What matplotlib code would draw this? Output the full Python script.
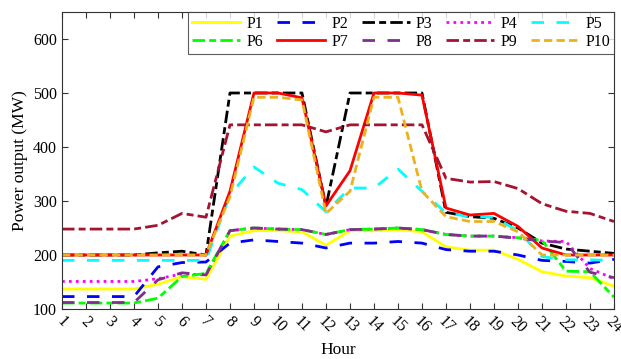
import matplotlib
matplotlib.use("Agg")
import matplotlib.pyplot as plt
import numpy as np

plt.rcParams['font.family'] = ['Liberation Serif', 'DejaVu Serif']
plt.rcParams['mathtext.fontset'] = 'stix'

hours = list(range(1, 25))
series_names = ["P1", "P2", "P3", "P4", "P5", "P6", "P7", "P8", "P9", "P10"]

P1 = [137, 137, 137, 137, 146, 160, 155, 235, 245, 245, 243, 218, 245, 245, 247, 243, 215, 209, 209, 192, 169, 161, 158, 142]
P2 = [123, 123, 123, 123, 178, 186, 187, 222, 228, 225, 222, 213, 222, 222, 225, 222, 210, 207, 207, 200, 190, 188, 185, 192]
P3 = [200, 200, 200, 200, 204, 207, 200, 500, 500, 500, 500, 290, 500, 500, 500, 500, 279, 271, 268, 250, 222, 211, 207, 203]
P4 = [151, 151, 151, 151, 156, 165, 163, 245, 250, 248, 247, 238, 247, 248, 250, 247, 238, 235, 235, 232, 226, 225, 175, 156]
P5 = [190, 190, 190, 190, 190, 190, 190, 312, 363, 333, 321, 280, 324, 324, 359, 318, 278, 271, 270, 245, 197, 191, 191, 190]
P6 = [111, 111, 111, 111, 120, 160, 166, 245, 250, 248, 247, 238, 247, 248, 250, 247, 238, 235, 235, 232, 227, 170, 169, 122]
P7 = [200, 200, 200, 200, 200, 200, 200, 318, 500, 500, 491, 291, 356, 500, 500, 496, 287, 274, 277, 253, 213, 200, 200, 200]
P8 = [112, 112, 112, 112, 154, 167, 163, 245, 250, 248, 247, 238, 247, 248, 250, 247, 238, 235, 235, 231, 226, 223, 168, 158]
P9 = [248, 248, 248, 248, 255, 277, 270, 441, 441, 441, 441, 428, 441, 441, 441, 441, 342, 335, 336, 323, 295, 281, 277, 262]
P10 = [200, 200, 200, 200, 200, 200, 200, 308, 492, 492, 487, 277, 318, 492, 492, 318, 271, 262, 262, 243, 200, 200, 200, 200]

data = [P1, P2, P3, P4, P5, P6, P7, P8, P9, P10]
colors = ["#ffff00", "#0000ff", "#000000", "#ff00ff", "#00ffff",
          "#00ff00", "#ff0000", "#7e2f8e", "#a2142f", "#edb120"]
dash = (4.5, 4.5)
dashdot = (4.5, 1.5, 2.5, 1.5)
styles = ["-", (0, dash), (0, dashdot), (0, (1, 1.5)), (0, dash),
          (0, dashdot), "-", (0, dash), (0, dashdot), (0, (3, 1.5))]

fig = plt.figure(figsize=(6.21, 3.59), dpi=100)
ax = fig.add_axes([0.0998, 0.1393, 0.8889, 0.8273])

handles = []
for vals, c, ls, name in zip(data, colors, styles, series_names):
    h, = ax.plot(hours, vals, color=c, linestyle=ls, linewidth=2.0, label=name)
    handles.append(h)

ax.set_xlim(1, 24)
ax.set_ylim(100, 650)
ax.set_yticks([100, 200, 300, 400, 500, 600])
ax.set_xticks(hours)
ax.set_xticklabels([str(h) for h in hours], rotation=-45, ha='center', va='top')
ax.tick_params(direction='in', top=True, right=True, labelsize=11.5, length=4, color='#333333')
for s in ax.spines.values():
    s.set_color('#333333')
    s.set_linewidth(0.8)

ax.set_xlabel("Hour", fontsize=12.5)
ax.set_ylabel("Power output (MW)", fontsize=12.5)

order = [0, 5, 1, 6, 2, 7, 3, 8, 4, 9]
leg = ax.legend([handles[i] for i in order], [series_names[i] for i in order],
                ncol=5, loc='upper right', fontsize=11.5, frameon=True, fancybox=False,
                edgecolor='#333333', handlelength=3.0, handletextpad=0.4,
                columnspacing=0.85, labelspacing=0.1, borderpad=0.25,
                borderaxespad=0.0, bbox_to_anchor=(1.0, 1.0))
leg.get_frame().set_linewidth(0.8)

fig.savefig("out.png", dpi=100)
